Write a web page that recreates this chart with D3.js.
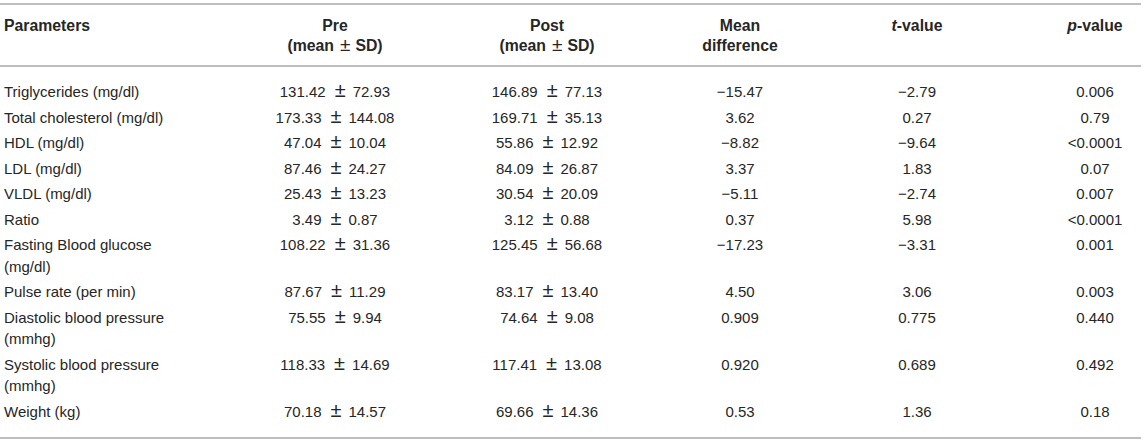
<!DOCTYPE html>
<html>
<head>
<meta charset="utf-8">
<script src="https://cdn.jsdelivr.net/npm/d3@7"></script>
<style>
  body { margin: 0; background: #fff; }
  text { font-family: "Liberation Sans", Arial, Helvetica, sans-serif; font-size: 15px; fill: #262626; }
  .head { font-weight: bold; font-size: 15.8px; }
</style>
</head>
<body>
<div id="table"></div>
<script>
// table content
var parameters = [
  ["Triglycerides (mg/dl)"],
  ["Total cholesterol (mg/dl)"],
  ["HDL (mg/dl)"],
  ["LDL (mg/dl)"],
  ["VLDL (mg/dl)"],
  ["Ratio"],
  ["Fasting Blood glucose", "(mg/dl)"],
  ["Pulse rate (per min)"],
  ["Diastolic blood pressure", "(mmhg)"],
  ["Systolic blood pressure", "(mmhg)"],
  ["Weight (kg)"]
];
var preMean  = ["131.42", "173.33", "47.04", "87.46", "25.43", "3.49", "108.22", "87.67", "75.55", "118.33", "70.18"];
var preSD    = ["72.93", "144.08", "10.04", "24.27", "13.23", "0.87", "31.36", "11.29", "9.94", "14.69", "14.57"];
var postMean = ["146.89", "169.71", "55.86", "84.09", "30.54", "3.12", "125.45", "83.17", "74.64", "117.41", "69.66"];
var postSD   = ["77.13", "35.13", "12.92", "26.87", "20.09", "0.88", "56.68", "13.40", "9.08", "13.08", "14.36"];
var meanDiff = ["\u221215.47", "3.62", "\u22128.82", "3.37", "\u22125.11", "0.37", "\u221217.23", "4.50", "0.909", "0.920", "0.53"];
var tValue   = ["\u22122.79", "0.27", "\u22129.64", "1.83", "\u22122.74", "5.98", "\u22123.31", "3.06", "0.775", "0.689", "1.36"];
var pValue   = ["0.006", "0.79", "<0.0001", "0.07", "0.007", "<0.0001", "0.001", "0.003", "0.440", "0.492", "0.18"];

var columns = ["pre", "post", "diff", "t", "p"];
var headers = [["Pre", "(mean \u00b1 SD)"], ["Post", "(mean \u00b1 SD)"], ["Mean", "difference"], ["t-value"], ["p-value"]];

var width = 1145, height = 443;
var rowStep = 25.5, lineStep = 21.5;

var svg = d3.select("#table")
  .append("svg")
    .attr("width", width)
    .attr("height", height);

// column centres
var x = d3.scaleOrdinal()
  .domain(columns)
  .range([335, 547, 740, 917, 1095]);
var xLeft = 4;

// rows: position each row from the number of lines above it
var rowOffsets = [];
var acc = 0;
parameters.forEach(function(p) {
  rowOffsets.push(acc);
  acc += rowStep + (p.length - 1) * lineStep;
});
var y = d3.scaleLinear().domain([0, 1]).range([92, 93]);

// rules
var rules = [4, 66, 438];
svg.selectAll("line.rule")
  .data(rules)
  .enter().append("line")
    .attr("class", "rule")
    .attr("x1", 0)
    .attr("x2", 1141)
    .attr("y1", function(d) { return d; })
    .attr("y2", function(d) { return d; })
    .attr("stroke", "#a8a8a8")
    .attr("stroke-width", 1.6);

// header
svg.append("text")
  .attr("class", "head")
  .attr("x", xLeft)
  .attr("y", 25)
  .attr("dy", "0.35em")
  .text("Parameters");

headers.forEach(function(h, i) {
  h.forEach(function(line, j) {
    var t = svg.append("text")
      .attr("class", "head")
      .attr("x", x(columns[i]))
      .attr("y", 25 + j * 20)
      .attr("dy", "0.35em")
      .attr("text-anchor", "middle");
    if (line.indexOf("-value") > 0) {
      t.append("tspan").style("font-style", "italic").text(line.charAt(0));
      t.append("tspan").text(line.slice(1));
    } else if (line.indexOf("\u00b1") > 0) {
      var parts = line.split("\u00b1");
      t.append("tspan").text(parts[0].trim());
      t.append("tspan").attr("dx", "6px").style("font-size", "19px").style("font-weight", "normal").text("\u00b1");
      t.append("tspan").attr("dx", "5px").text(parts[1].trim());
    } else {
      t.text(line);
    }
  });
});

// body
function pm(g, cx, cy, a, b) {
  var t = g.append("text")
    .attr("x", cx)
    .attr("y", cy)
    .attr("dy", "0.35em")
    .attr("text-anchor", "middle");
  t.append("tspan").text(a);
  t.append("tspan").attr("dx", "9px").style("font-size", "20px").text("\u00b1");
  t.append("tspan").attr("dx", "7px").text(b);
}

var rows = svg.selectAll("g.row")
  .data(parameters)
  .enter().append("g")
    .attr("class", "row")
    .attr("transform", function(d, i) { return "translate(0," + y(rowOffsets[i]) + ")"; });

rows.each(function(p, i) {
  var g = d3.select(this);
  p.forEach(function(line, j) {
    g.append("text")
      .attr("x", xLeft)
      .attr("y", j * lineStep)
      .attr("dy", "0.35em")
      .text(line);
  });
  pm(g, x("pre"), 0, preMean[i], preSD[i]);
  pm(g, x("post"), 0, postMean[i], postSD[i]);
  [["diff", meanDiff], ["t", tValue], ["p", pValue]].forEach(function(c) {
    g.append("text")
      .attr("x", x(c[0]))
      .attr("y", 0)
      .attr("dy", "0.35em")
      .attr("text-anchor", "middle")
      .text(c[1][i]);
  });
});
</script>
</body>
</html>
